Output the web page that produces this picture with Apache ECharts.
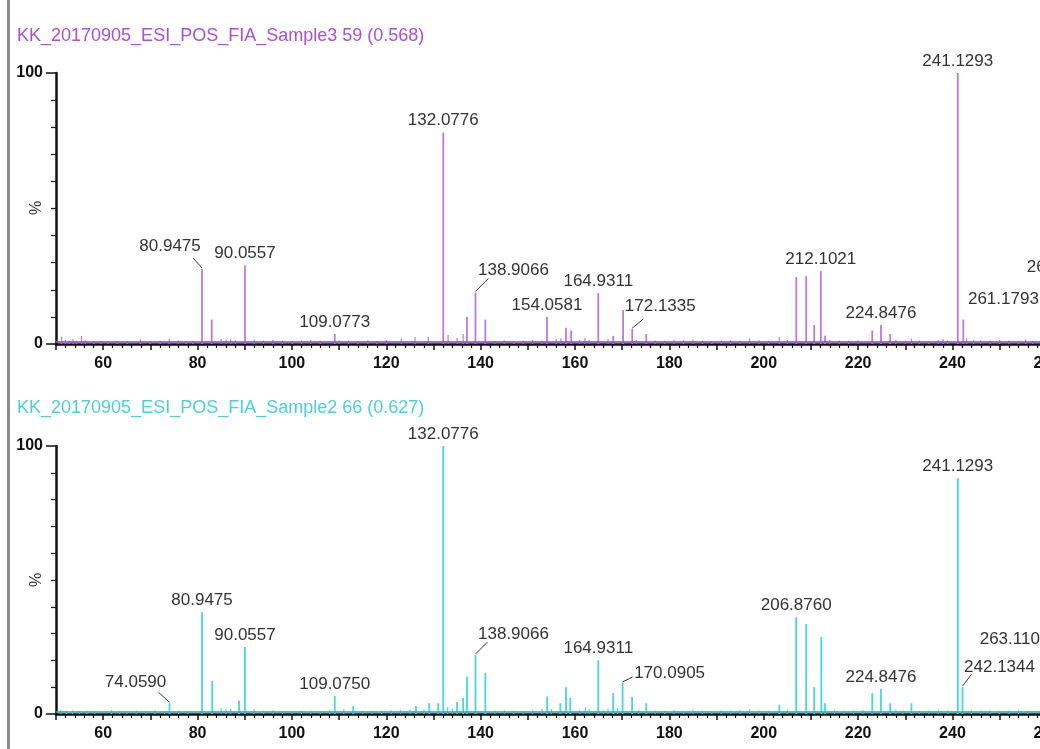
<!DOCTYPE html>
<html>
<head>
<meta charset="utf-8">
<script src="https://cdn.jsdelivr.net/npm/echarts@6/dist/echarts.min.js"></script>
<style>
html,body{margin:0;padding:0;background:#fff;overflow:hidden;width:1040px;height:749px;}
#chart{width:1100px;height:749px;}
</style>
</head>
<body>
<div id="chart"></div>
<script>
// ---------------- DATA ----------------
const titleTop = 'KK_20170905_ESI_POS_FIA_Sample3 59 (0.568)';
const titleBottom = 'KK_20170905_ESI_POS_FIA_Sample2 66 (0.627)';
const yAxisName = '%';

const xTickValues = [60, 80, 100, 120, 140, 160, 180, 200, 220, 240, 260];
const yTickValues = [0, 100];

// Sample3 peaks [m/z, relative intensity %]
const topPeaks = [
  [80.9475, 27.7], [83.0, 9], [90.0557, 29], [109.0773, 3.7],
  [132.0776, 78], [137.1, 10], [138.9066, 19], [141.0, 9],
  [154.0581, 10], [158.1, 6], [159.2, 5], [164.9311, 18.8],
  [168.1, 3], [170.2, 12.5], [172.1335, 5.5], [175.1, 3.7],
  [206.9, 24.7], [209.0, 25], [210.7, 7], [212.1021, 27], [213.0, 3],
  [223.0, 5], [224.8476, 7], [226.8, 3.7],
  [241.1293, 100], [242.3, 9], [261.1793, 12], [263.1103, 24]
];
const topNoise = [
  [51.2,2.8],[52.0,1.5],[52.8,1.2],[53.6,1.8],[54.4,1.2],[55.4,3.0],[56.2,1.4],[58.0,1.0],[59.5,1.2],
  [61.0,0.9],[63.0,1.1],[65.1,1.0],[67.9,1.8],[70.0,1.0],[72.1,1.2],[74.0,1.9],[75.9,1.4],[77.5,1.0],
  [79.0,1.2],[85.0,1.8],[86.1,1.6],[87.0,1.9],[88.0,1.4],[92.0,1.7],[94.0,1.3],[96.0,1.5],[98.0,1.2],
  [100.1,1.0],[102.0,1.4],[104.0,1.6],[106.0,1.2],[110.0,1.4],[112.0,1.2],[114.0,1.0],[116.1,1.4],
  [118.0,1.2],[120.0,1.5],[123.2,2.0],[126.1,2.5],[128.9,2.6],[133.1,3.3],[135.0,2.2],[136.3,3.7],
  [143.0,1.2],[145.0,1.4],[147.0,1.0],[149.0,1.3],[151.0,1.5],[153.0,1.2],[156.0,1.8],[157.0,2.0],
  [161.0,1.5],[162.1,2.2],[163.0,1.6],[167.0,1.8],[173.0,1.5],[177.0,1.3],[179.0,1.2],[181.0,1.6],
  [183.0,1.4],[185.0,1.7],[187.0,1.2],[189.0,1.0],[191.0,1.3],[193.0,1.5],[195.0,1.2],[197.0,2.0],
  [199.0,1.4],[201.0,1.2],[203.3,2.5],[205.0,1.5],[214.0,1.6],[216.0,1.3],[218.0,1.2],[220.0,1.4],
  [228.0,1.5],[230.0,1.2],[231.3,2.0],[233.0,1.3],[235.0,1.0],[237.0,1.5],[238.0,1.8],[239.0,1.3],
  [243.0,2.0],[244.5,1.6],[246.0,1.4],[248.0,1.2],[250.0,1.5],[252.0,1.3],[254.0,1.0],[255.5,1.8],[257.0,1.2]
];
const topLabels = ['80.9475','90.0557','109.0773','132.0776','138.9066','154.0581','164.9311',
  '172.1335','212.1021','224.8476','241.1293','261.1793','263.1103'];

// Sample2 peaks
const bottomPeaks = [
  [74.0590, 4], [80.9475, 38], [83.1, 12.3], [88.8, 5], [90.0557, 25],
  [109.0750, 6.7], [113.0, 3], [126.3, 3], [129.1, 4], [131.0, 4],
  [132.0776, 100], [135.0, 4.5], [136.3, 6], [137.1, 14], [138.9066, 22], [141.0, 15.3],
  [154.1, 6.5], [156.9, 4], [158.1, 10], [159.0, 6], [164.9311, 20],
  [168.1, 7.8], [170.0905, 11.6], [172.1, 6.3], [175.1, 4],
  [203.3, 3.4], [206.8760, 36], [209.0, 33.6], [210.7, 10], [212.2, 28.7], [213.0, 4],
  [223.0, 7.8], [224.8476, 9.3], [226.8, 4], [231.3, 4],
  [241.1293, 88], [242.1344, 10], [263.1103, 23.5]
];
const bottomNoise = [
  [51.0,1.6],[52.2,1.2],[53.5,1.4],[55.0,1.1],[56.5,1.3],[58.2,1.0],[61.8,1.5],[63.5,1.2],[65.0,1.0],
  [67.0,1.3],[69.0,1.1],[71.0,1.4],[73.0,1.2],[76.0,1.3],[78.0,1.0],[85.0,2.2],[86.0,1.8],[87.0,2.0],
  [92.0,1.8],[94.0,1.2],[96.0,1.4],[98.0,1.1],[100.0,1.0],[102.0,1.2],[104.0,1.3],[106.0,1.1],[108.0,1.6],
  [111.0,1.8],[115.0,1.2],[117.0,1.1],[119.0,1.3],[121.0,1.4],[123.0,1.5],[125.0,1.6],[128.0,1.8],
  [133.0,2.5],[134.0,2.0],[143.0,1.3],[145.0,1.4],[147.0,1.2],[149.0,1.1],[151.0,1.4],[153.0,2.0],
  [155.0,1.8],[161.0,1.6],[162.2,2.4],[163.0,1.8],[166.0,1.4],[167.0,2.0],[169.0,2.2],[173.5,1.6],
  [177.0,1.3],[179.0,1.2],[181.0,1.5],[183.0,1.2],[185.0,1.6],[187.0,1.2],[189.0,1.1],[191.0,1.4],
  [193.0,1.3],[195.0,1.5],[197.0,1.8],[199.0,1.3],[201.0,1.2],[205.0,1.6],[215.0,1.5],[217.0,1.3],
  [219.0,1.2],[221.0,1.5],[228.0,1.6],[229.5,1.3],[233.0,1.2],[235.0,1.3],[237.0,1.6],[239.0,1.4],
  [244.0,1.5],[246.0,1.3],[248.0,1.4],[250.0,1.2],[252.0,1.3],[254.0,1.5],[256.0,1.2]
];
const bottomLabels = ['74.0590','80.9475','90.0557','109.0750','132.0776','138.9066','164.9311',
  '170.0905','206.8760','224.8476','241.1293','242.1344','263.1103'];

// ---------------- STYLE ----------------
const FONT = '"Liberation Sans", Arial, sans-serif';
const colTop = '#bb77e6', colTopTitle = '#a94fd9', colTopBase = '#8a4fb0';
const colBot = '#45d6e4', colBotTitle = '#4ccfdc', colBotBase = '#2aa9b8';
// label placement: [text-center dx, text-center dy, leader end dx, leader end dy]
const labelPlacement = {
  top: {
    '80.9475': [-32, -23, -9, -11],
    '138.9066': [38, -22, 13, -14],
    '172.1335': [28, -23, 11, -10],
    '261.1793': [-49, -12]
  },
  bottom: {
    '74.0590': [-34, -21, -11, -11],
    '138.9066': [38, -21, 12, -13],
    '170.0905': [47, -10, 10, -6],
    '242.1344': [37, -20, 9, -13],
    '263.1103': [-47, -12]
  }
};

function findIntensity(peaks, mz) {
  for (const p of peaks) if (Math.abs(p[0] - mz) < 1e-6) return p[1];
  return 0;
}
function labelData(peaks, labels) {
  return labels.map(t => [parseFloat(t), findIntensity(peaks, parseFloat(t))]);
}

function stickSeries(data, idx, color, width, baseColor) {
  const s = {
    type: 'custom', xAxisIndex: idx, yAxisIndex: idx, clip: false,
    encode: { x: 0, y: 1 },
    renderItem: function (params, api) {
      const p0 = api.coord([api.value(0), 0]);
      const p1 = api.coord([api.value(0), api.value(1)]);
      return { type: 'line', shape: { x1: p0[0], y1: p0[1], x2: p1[0], y2: p1[1] },
        style: { stroke: color, lineWidth: width } };
    },
    data: data
  };
  if (baseColor) {
    s.markLine = { silent: true, symbol: 'none', label: { show: false },
      lineStyle: { color: baseColor, width: 2, type: 'solid', opacity: 0.8 },
      data: [{ yAxis: 0.9 }] };
  }
  return s;
}
function labelSeries(peaks, labels, idx, key) {
  const data = labelData(peaks, labels);
  return {
    type: 'custom', xAxisIndex: idx, yAxisIndex: idx, clip: false, z: 5,
    encode: { x: 0, y: 1 },
    renderItem: function (params, api) {
      const t = labels[params.dataIndex];
      const p = api.coord([api.value(0), api.value(1)]);
      const pl = labelPlacement[key][t] || [0, -12];
      const children = [{
        type: 'text',
        style: { x: p[0] + pl[0], y: p[1] + pl[1], text: t, fill: '#333',
          font: '17px ' + FONT, textAlign: 'center', textVerticalAlign: 'middle' }
      }];
      if (pl.length > 2) {
        children.push({ type: 'line', shape: { x1: p[0], y1: p[1] - 1, x2: p[0] + pl[2], y2: p[1] + pl[3] },
          style: { stroke: '#333', lineWidth: 1 } });
      }
      return { type: 'group', children: children };
    },
    data: data
  };
}

function xAxisDef(idx) {
  return {
    type: 'value', gridIndex: idx, min: 50, max: 270, interval: 10,
    axisLine: { show: true, onZero: false, lineStyle: { color: '#111', width: 2.5 } },
    axisTick: { show: true, length: 6, lineStyle: { color: '#111', width: 1.5 } },
    minorTick: { show: true, splitNumber: 5, length: 4, lineStyle: { color: '#111', width: 1.2 } },
    splitLine: { show: false },
    axisLabel: {
      color: '#111', fontWeight: 'bold', fontSize: 16, margin: 12, fontFamily: FONT,
      formatter: v => (xTickValues.indexOf(v) >= 0 ? String(v) : '')
    }
  };
}
function yAxisDef(idx) {
  return {
    type: 'value', gridIndex: idx, min: 0, max: 100, interval: 100,
    axisLine: { show: true, lineStyle: { color: '#111', width: 2.5 } },
    axisTick: { show: true, length: 10, lineStyle: { color: '#111', width: 1.5 } },
    minorTick: { show: true, splitNumber: 10, length: 5, lineStyle: { color: '#111', width: 1.2 } },
    splitLine: { show: false },
    axisLabel: {
      color: '#111', fontWeight: 'bold', fontSize: 16, margin: 13, fontFamily: FONT,
      formatter: v => (yTickValues.indexOf(v) >= 0 ? String(v) : '')
    }
  };
}

const chart = echarts.init(document.getElementById('chart'), null, { renderer: 'canvas' });
chart.setOption({
  animation: false,
  backgroundColor: '#fff',
  title: [
    { text: titleTop, left: 12, top: 22, textStyle: { color: colTopTitle, fontSize: 18, fontWeight: 'normal', fontFamily: FONT } },
    { text: titleBottom, left: 12, top: 394, textStyle: { color: colBotTitle, fontSize: 18, fontWeight: 'normal', fontFamily: FONT } }
  ],
  graphic: [
    { type: 'rect', left: 7, top: 0, shape: { width: 3, height: 749 }, style: { fill: '#8c8c8c' } },
    { type: 'text', x: 37, y: 208, rotation: Math.PI / 2,
      style: { text: yAxisName, fill: '#333', font: '16px ' + FONT, textAlign: 'center', textVerticalAlign: 'middle' } },
    { type: 'text', x: 37, y: 580, rotation: Math.PI / 2,
      style: { text: yAxisName, fill: '#333', font: '16px ' + FONT, textAlign: 'center', textVerticalAlign: 'middle' } }
  ],
  grid: [
    { left: 56, right: 6, top: 73, height: 271, outerBoundsMode: 'none' },
    { left: 56, right: 6, top: 446, height: 268, outerBoundsMode: 'none' }
  ],
  xAxis: [xAxisDef(0), xAxisDef(1)],
  yAxis: [yAxisDef(0), yAxisDef(1)],
  series: [
    stickSeries(topNoise, 0, colTop, 1.2, colTopBase),
    stickSeries(topPeaks, 0, colTop, 1.8),
    labelSeries(topPeaks, topLabels, 0, 'top'),
    stickSeries(bottomNoise, 1, colBot, 1.2, colBotBase),
    stickSeries(bottomPeaks, 1, colBot, 1.8),
    labelSeries(bottomPeaks, bottomLabels, 1, 'bottom')
  ]
});
</script>
</body>
</html>
